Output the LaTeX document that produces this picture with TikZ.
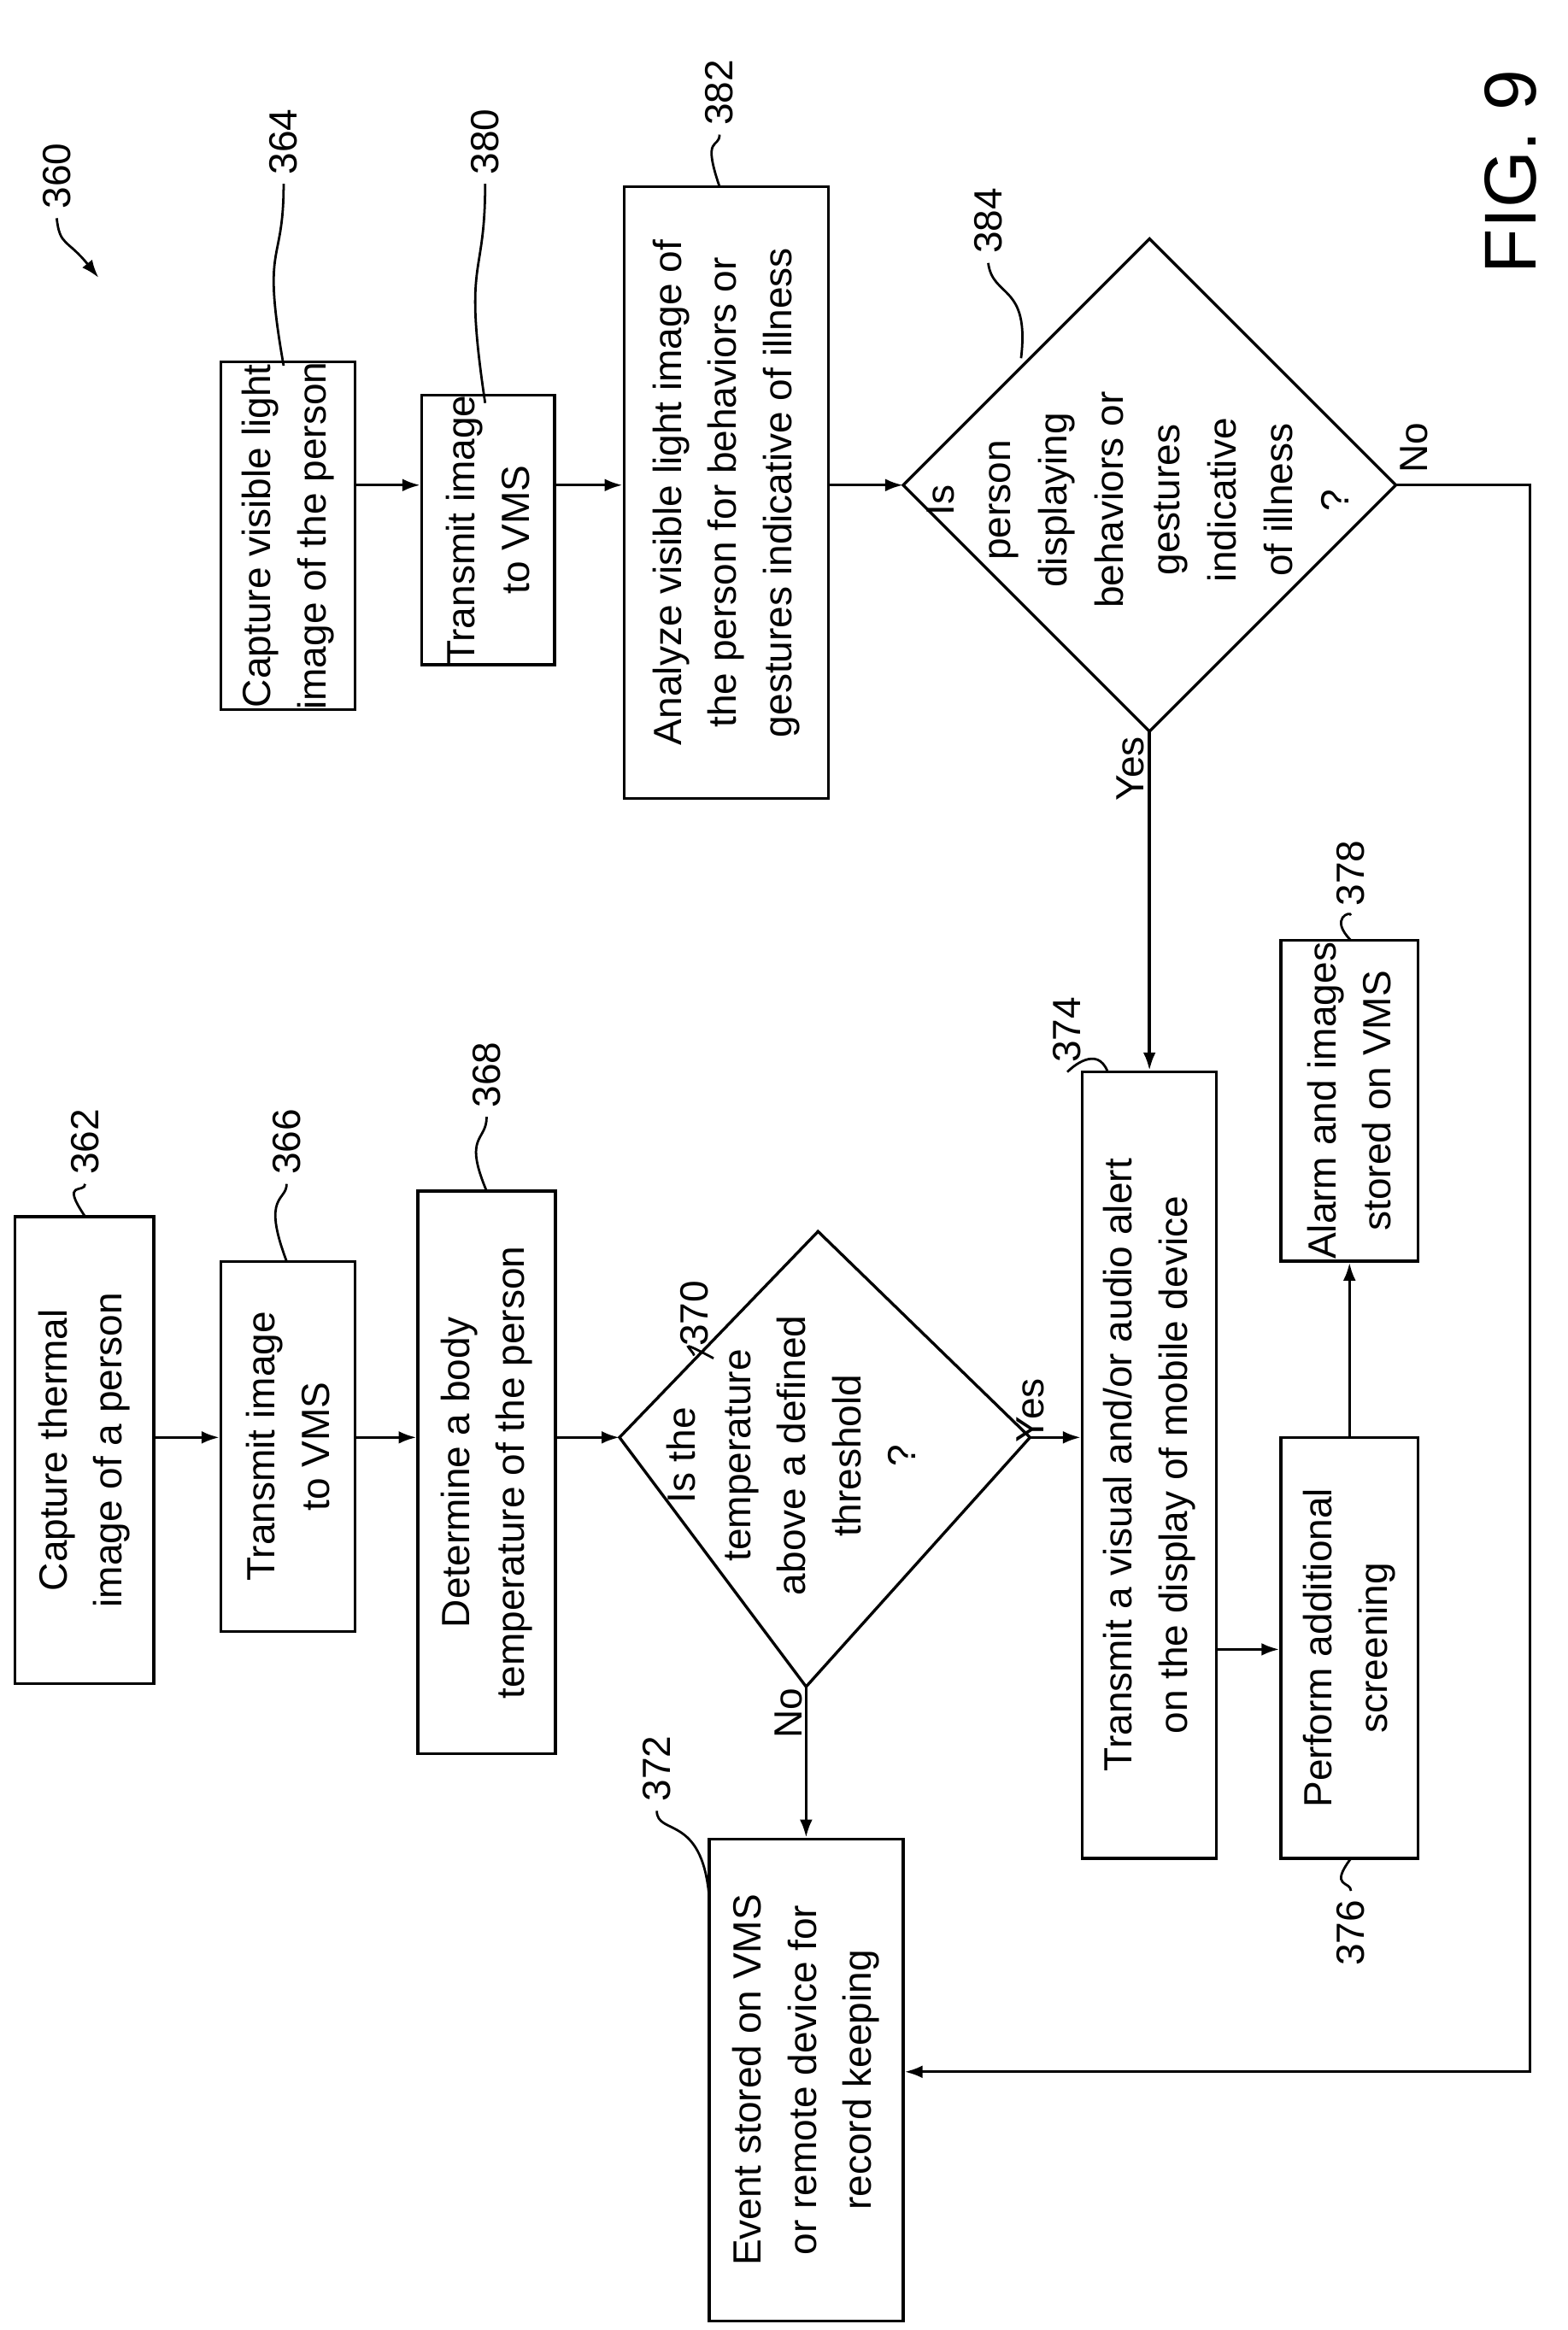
\documentclass[tikz,border=0pt]{standalone}
\usepackage{fontspec}
\setmainfont{Liberation Sans}
\usetikzlibrary{arrows.meta}
\begin{document}
\begin{tikzpicture}[x=0.02cm,y=-0.02cm,
 ln/.style={line width=1.1pt},
 arr/.style={ln,-{Latex[length=2.4mm,width=1.7mm]}},
 box/.style={draw,ln,rotate=90,inner sep=0pt,align=center,font=\fontsize{15}{21}\selectfont},
 txt/.style={rotate=90,align=center,font=\fontsize{15}{20}\selectfont},
 num/.style={rotate=90,font=\fontsize{15}{18}\selectfont},
 lead/.style={line width=0.9pt}]
\useasboundingbox (0,0) rectangle (1050,1561);
\coordinate (yA) at (0,963);
\coordinate (yB) at (0,325);
% boxes: minimum width = vertical extent, minimum height = horizontal extent
\node[box,minimum width=6.26cm,minimum height=1.86cm] (b362) at (56.5,971.5) {Capture thermal\\image of a person};
\node[box,minimum width=4.96cm,minimum height=1.8cm] (b366) at (193,969) {Transmit image\\to VMS};
\node[box,minimum width=7.54cm,minimum height=1.84cm] (b368) at (326,986.5) {Determine a body\\temperature of the person};
\node[box,minimum width=6.46cm,minimum height=2.6cm] (b372) at (540,1393.5) {Event stored on VMS\\or remote device for\\record keeping};
\node[box,minimum width=10.54cm,minimum height=1.8cm] (b374) at (770,981.5) {Transmit a visual and/or audio alert\\on the display of mobile device};
\node[box,minimum width=5.64cm,minimum height=1.84cm] (b376) at (904,1104) {Perform additional\\screening};
\node[box,minimum width=4.3cm,minimum height=1.84cm] (b378) at (904,737.5) {Alarm and images\\stored on VMS};
\node[box,minimum width=4.6cm,minimum height=1.8cm] (b364) at (193,359) {Capture visible light\\image of the person};
\node[box,minimum width=3.4cm,minimum height=1.78cm] (b380) at (327,355) {Transmit image\\to VMS};
\node[box,minimum width=8.2cm,minimum height=2.74cm] (b382) at (486.5,330) {Analyze visible light image of\\the person for behaviors or\\gestures indicative of illness};
% diamonds
\coordinate (d70l) at (415,963); \coordinate (d70t) at (548,825);
\coordinate (d70r) at (690,963); \coordinate (d70b) at (540,1130);
\draw[ln] (d70l)--(d70t)--(d70r)--(d70b)--cycle;
\node[txt,font=\fontsize{15}{21}\selectfont] (t370) at (530,975) {Is the\\temperature\\above a defined\\threshold\\?};
\coordinate (d84l) at (605,325); \coordinate (d84t) at (770,160);
\coordinate (d84r) at (935,325); \coordinate (d84b) at (770,490);
\draw[ln] (d84l)--(d84t)--(d84r)--(d84b)--cycle;
\node[txt,font=\fontsize{15}{21.5}\selectfont] (t384) at (762,335) {Is\\person\\displaying\\behaviors or\\gestures\\indicative\\of illness\\?};
% arrows
\draw[arr] (b362.south |- yA) -- (b366.north |- yA);
\draw[arr] (b366.south |- yA) -- (b368.north |- yA);
\draw[arr] (b368.south |- yA) -- (d70l);
\draw[arr] (d70r) -- (b374.north |- yA);
\draw[arr] (d70b) -- (b372.east);
\draw[arr] (b374.south |- 0,1105) -- (b376.north |- 0,1105);
\draw[arr] (b376.east) -- (b378.west);
\draw[arr] (b364.south |- yB) -- (b380.north |- yB);
\draw[arr] (b380.south |- yB) -- (b382.north |- yB);
\draw[arr] (b382.south |- yB) -- (d84l);
\draw[arr] (d84b) -- (b374.east -| d84b);
\coordinate (c1) at (1025,325); \coordinate (c2) at (1025,1388);
\draw[arr] (d84r) -- (c1) -- (c2) -- (b372.south |- c2);
\node[num] (yes1) at (690,945) {Yes};
\node[num] (no1) at (528,1148) {No};
\node[num] (yes2) at (757,515) {Yes};
\node[num] (no2) at (947,300) {No};
% reference numerals
\node[num] (n362) at (57,765) {362};
\draw[lead] (n362.west) .. controls (57,800) and (40,790) .. (57,815);
\node[num] (n366) at (192,765) {366};
\draw[lead] (n366.west) .. controls (192,805) and (175,800) .. (192,845);
\node[num] (n368) at (326,720) {368};
\draw[lead] (n368.west) .. controls (326,765) and (310,760) .. (326,798);
\node[num] (n370) at (465,880) {370};
\draw[lead] (n370.west) .. controls (465,905) and (450,895) .. (478,910);
\node[num] (n372) at (440,1185) {372};
\draw[lead] (n372.west) .. controls (440,1230) and (470,1215) .. (475,1270);
\node[num] (n374) at (715,690) {374};
\draw[lead] (n374.west) .. controls (718,715) and (735,700) .. (742,718);
\node[num] (n376) at (905,1295) {376};
\draw[lead] (n376.east) .. controls (905,1260) and (890,1265) .. (905,1245);
\node[num] (n378) at (905,585) {378};
\draw[lead] (n378.west) .. controls (905,610) and (890,615) .. (905,630);
\node[num] (n364) at (190,95) {364};
\draw[lead] (n364.west) .. controls (190,180) and (175,160) .. (190,245);
\node[num] (n380) at (325,95) {380};
\draw[lead] (n380.west) .. controls (325,190) and (310,170) .. (325,270);
\node[num] (n382) at (482,62) {382};
\draw[lead] (n382.west) .. controls (482,100) and (470,90) .. (482,125);
\node[num] (n384) at (662,148) {384};
\draw[lead] (n384.west) .. controls (665,200) and (690,190) .. (684,240);
\node[num] (n360) at (38,118) {360};
\draw[arr,line width=0.9pt] (n360.west) .. controls (40,165) and (45,160) .. (66,186);
\node[rotate=90,font=\fontsize{28}{30}\selectfont] (fig) at (1012,115) {FIG. 9};
\end{tikzpicture}
\end{document}
